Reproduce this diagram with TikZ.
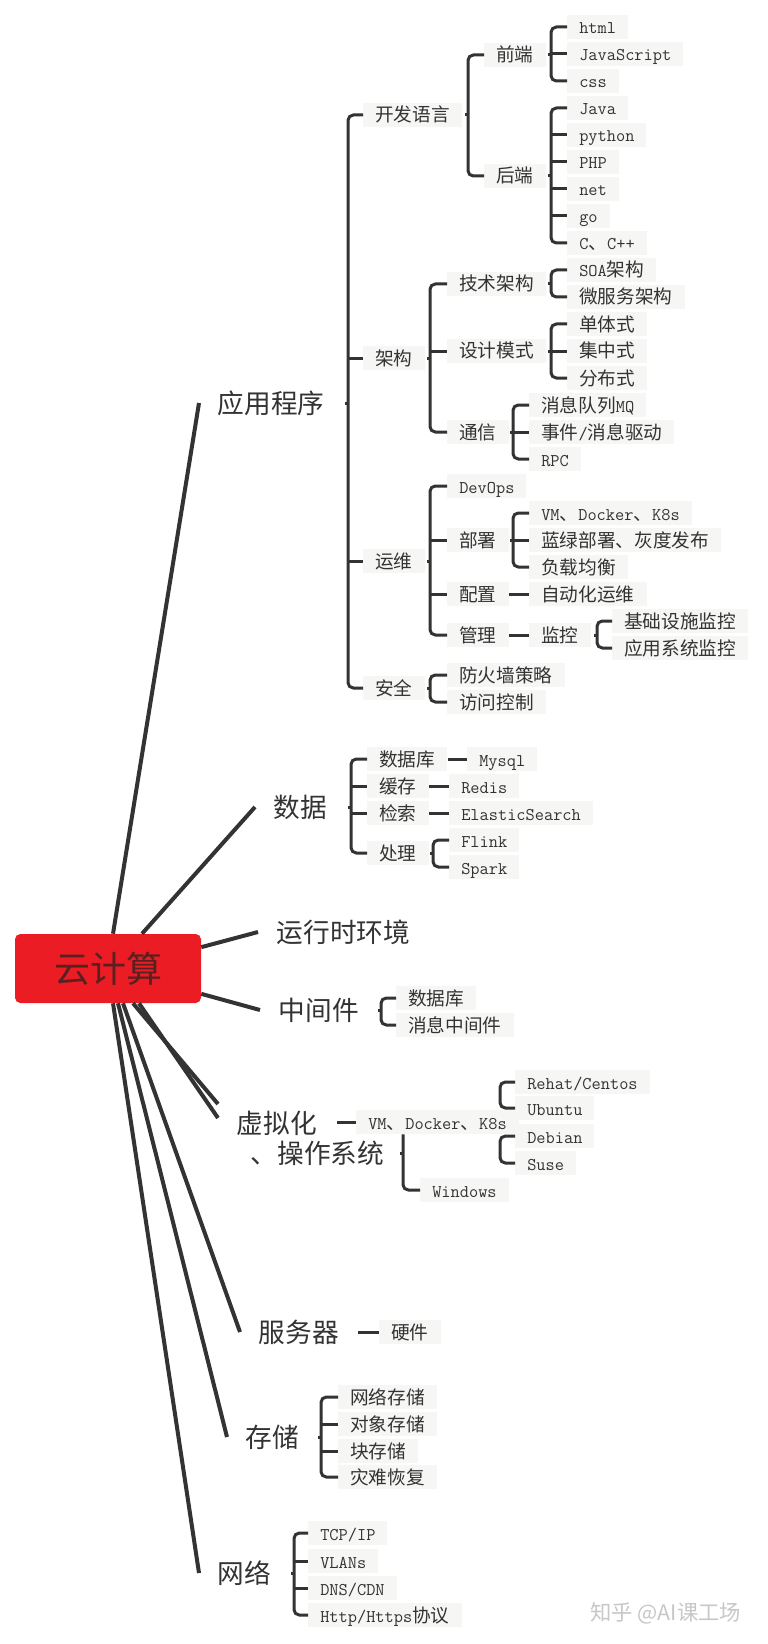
\documentclass[tikz,border=0pt]{standalone}
\usepackage{fontspec}
\setmainfont{Noto Sans CJK SC}
\newcommand\en[1]{{\ttfamily\fontsize{13.4pt}{16pt}\selectfont #1}}
\definecolor{ink}{RGB}{51,51,51}
\definecolor{rootred}{RGB}{236,28,36}
\definecolor{roottxt}{RGB}{88,32,32}
\definecolor{boxbg}{RGB}{246,246,244}

\begin{document}
\begin{tikzpicture}[x=0.75pt,y=-0.75pt,
    every node/.style={text=ink},
    leaf/.style={anchor=west,font=\fontsize{14pt}{16pt}\selectfont,inner xsep=9pt,inner ysep=0pt,
                 minimum height=18pt,text height=12pt,text depth=1.5pt,fill=boxbg},
    topic/.style={anchor=west,font=\fontsize{20pt}{22.5pt}\selectfont,inner xsep=14pt,inner ysep=2pt},
    br/.style={draw=ink,line width=2.25pt,rounded corners=4pt},
    trunk/.style={draw=ink,line width=3pt}]
                \path[fill=white] (0,0) rectangle (767,1644);
                % centre
                \node[fill=rootred,rounded corners=4pt,minimum width=139.5pt,minimum height=51.75pt,
                      text=roottxt,font=\fontsize{27pt}{30pt}\selectfont] (root) at (108,968.5) {云计算};
                % main topics
                \node[topic] (app) at (199,403) {应用程序};
                \node[topic] (data) at (255,807) {数据};
                \node[topic] (runtime) at (258,932) {运行时环境};
                \node[topic] (mid) at (260,1010) {中间件};
                \node[topic,align=left] (virt) at (218,1138) {虚拟化\\\hspace*{10.5pt}、操作系统};
                \node[topic] (server) at (240,1332) {服务器};
                \node[topic] (storage) at (227,1437) {存储};
                \node[topic] (net) at (199,1573) {网络};
                \draw[trunk] ([xshift=3.75pt]root.north) -- (app.west);
                \draw[trunk] ([xshift=25.5pt]root.north) -- (data.west);
                \draw[trunk] ([yshift=16pt]root.east) -- (runtime.west);
                \draw[trunk] ([yshift=-19pt]root.east) -- (mid.west);
                \draw[trunk] ([xshift=18.75pt]root.south) -- ([yshift=25.5pt]virt.west);
                \draw[trunk] ([xshift=23.25pt]root.south) -- ([yshift=15pt]virt.west);
                \draw[trunk] ([xshift=11.25pt]root.south) -- (server.west);
                \draw[trunk] ([xshift=7.5pt]root.south) -- (storage.west);
                \draw[trunk] ([xshift=3.75pt]root.south) -- (net.west);
                % 应用程序
                \node[leaf] (devlang) at (363,115) {开发语言};
                \node[leaf] (arch) at (363,358) {架构};
                \node[leaf] (ops) at (363,561) {运维};
                \node[leaf] (sec) at (363,688) {安全};
                \draw[br] (devlang.west) -| (348,0 |- sec.west) -- (sec.west);
                \foreach \ch in {arch,ops} \draw[br] (348,0 |- \ch.west) -- (\ch.west);
                \draw[br] (348,0 |- app.east) -- ++(-3,0);
                % 开发语言
                \node[leaf] (fe) at (484,55) {前端};
                \node[leaf] (be) at (484,176) {后端};
                \draw[br] (fe.west) -| (468,0 |- be.west) -- (be.west);
                \draw[br] (468,0 |- devlang.east) -- ++(-3,0);
                \node[leaf] (html) at (567,27) {\en{html}};
                \node[leaf] (js) at (567,54) {\en{JavaScript}};
                \node[leaf] (css) at (567,81) {\en{css}};
                \draw[br] (html.west) -| (551,0 |- css.west) -- (css.west);
                \draw[br] (551,0 |- js.west) -- (js.west);
                \draw[br] (551,0 |- fe.east) -- ++(-3,0);
                \node[leaf] (java) at (567,108) {\en{Java}};
                \node[leaf] (python) at (567,135) {\en{python}};
                \node[leaf] (php) at (567,162) {\en{PHP}};
                \node[leaf] (dotnet) at (567,189) {\en{net}};
                \node[leaf] (golang) at (567,216) {\en{go}};
                \node[leaf] (cpp) at (567,243) {\en{C}、\en{C++}};
                \draw[br] (java.west) -| (551,0 |- cpp.west) -- (cpp.west);
                \foreach \ch in {python,php,dotnet,golang} \draw[br] (551,0 |- \ch.west) -- (\ch.west);
                \draw[br] (551,0 |- be.east) -- ++(-3,0);
                % 架构
                \node[leaf] (tech) at (447,284) {技术架构};
                \node[leaf] (design) at (447,351) {设计模式};
                \node[leaf] (comm) at (447,432) {通信};
                \draw[br] (tech.west) -| (430,0 |- comm.west) -- (comm.west);
                \draw[br] (430,0 |- design.west) -- (design.west);
                \draw[br] (430,0 |- arch.east) -- ++(-3,0);
                \node[leaf] (soa) at (567,270) {\en{SOA}架构};
                \node[leaf] (micro) at (567,297) {微服务架构};
                \draw[br] (soa.west) -| (551,0 |- micro.west) -- (micro.west);
                \draw[br] (551,0 |- tech.east) -- ++(-3,0);
                \node[leaf] (mono) at (567,324) {单体式};
                \node[leaf] (central) at (567,351) {集中式};
                \node[leaf] (distrib) at (567,378) {分布式};
                \draw[br] (mono.west) -| (551,0 |- distrib.west) -- (distrib.west);
                \draw[br] (551,0 |- central.west) -- (central.west);
                \draw[br] (551,0 |- design.east) -- ++(-3,0);
                \node[leaf] (mq) at (529,405) {消息队列\en{MQ}};
                \node[leaf] (event) at (529,432) {事件\en{/}消息驱动};
                \node[leaf] (rpc) at (529,459) {\en{RPC}};
                \draw[br] (mq.west) -| (513,0 |- rpc.west) -- (rpc.west);
                \draw[br] (513,0 |- event.west) -- (event.west);
                \draw[br] (513,0 |- comm.east) -- ++(-3,0);
                % 运维
                \node[leaf] (devops) at (447,486) {\en{DevOps}};
                \node[leaf] (deploy) at (447,540) {部署};
                \node[leaf] (config) at (447,594) {配置};
                \node[leaf] (mgmt) at (447,635) {管理};
                \draw[br] (devops.west) -| (430,0 |- mgmt.west) -- (mgmt.west);
                \foreach \ch in {deploy,config} \draw[br] (430,0 |- \ch.west) -- (\ch.west);
                \draw[br] (430,0 |- ops.east) -- ++(-3,0);
                \node[leaf] (vm) at (529,513) {\en{VM}、\en{Docker}、\en{K8s}};
                \node[leaf] (bluegreen) at (529,540) {蓝绿部署、灰度发布};
                \node[leaf] (lb) at (529,567) {负载均衡};
                \draw[br] (vm.west) -| (513,0 |- lb.west) -- (lb.west);
                \draw[br] (513,0 |- bluegreen.west) -- (bluegreen.west);
                \draw[br] (513,0 |- deploy.east) -- ++(-3,0);
                \node[leaf] (autoops) at (529,594) {自动化运维};
                \draw[br] (config.east) -- (autoops.west);
                \node[leaf] (monitor) at (529,635) {监控};
                \draw[br] (mgmt.east) -- (monitor.west);
                \node[leaf] (infra) at (612,621) {基础设施监控};
                \node[leaf] (appmon) at (612,648) {应用系统监控};
                \draw[br] (infra.west) -| (597,0 |- appmon.west) -- (appmon.west);
                \draw[br] (597,0 |- monitor.east) -- ++(-3,0);
                % 安全
                \node[leaf] (firewall) at (447,675) {防火墙策略};
                \node[leaf] (access) at (447,702) {访问控制};
                \draw[br] (firewall.west) -| (430,0 |- access.west) -- (access.west);
                \draw[br] (430,0 |- sec.east) -- ++(-3,0);
                % 数据
                \node[leaf] (db) at (367,759) {数据库};
                \node[leaf] (cache) at (367,786) {缓存};
                \node[leaf] (search) at (367,813) {检索};
                \node[leaf] (proc) at (367,853) {处理};
                \draw[br] (db.west) -| (351,0 |- proc.west) -- (proc.west);
                \foreach \ch in {cache,search} \draw[br] (351,0 |- \ch.west) -- (\ch.west);
                \draw[br] (351,0 |- data.east) -- ++(-3,0);
                \node[leaf] (mysql) at (467,759) {\en{Mysql}};
                \node[leaf] (redis) at (449,786) {\en{Redis}};
                \node[leaf] (es) at (449,813) {\en{ElasticSearch}};
                \draw[br] (db.east) -- (mysql.west);
                \draw[br] (cache.east) -- (redis.west);
                \draw[br] (search.east) -- (es.west);
                \node[leaf] (flink) at (449,840) {\en{Flink}};
                \node[leaf] (spark) at (449,867) {\en{Spark}};
                \draw[br] (flink.west) -| (433,0 |- spark.west) -- (spark.west);
                \draw[br] (433,0 |- proc.east) -- ++(-3,0);
                % 中间件
                \node[leaf] (mdb) at (396,998) {数据库};
                \node[leaf] (mq2) at (396,1025) {消息中间件};
                \draw[br] (mdb.west) -| (381,0 |- mq2.west) -- (mq2.west);
                \draw[br] (381,0 |- mid.east) -- ++(-3,0);
                % 虚拟化、操作系统
                \node[leaf] (vm2) at (356,1122) {\en{VM}、\en{Docker}、\en{K8s}};
                \draw[br] (vm2.west) -- ++(-19,0);
                \node[leaf] (windows) at (420,1190) {\en{Windows}};
                \draw[br] (403,0 |- vm2.south) |- (windows.west);
                \draw[br] (403,0 |- virt.west) ++(0,15) -- ++(-3,0);
                \node[leaf] (rehat) at (515,1082) {\en{Rehat/Centos}};
                \node[leaf] (ubuntu) at (515,1108) {\en{Ubuntu}};
                \node[leaf] (debian) at (515,1136) {\en{Debian}};
                \node[leaf] (suse) at (515,1163) {\en{Suse}};
                \draw[br] (rehat.west) -| (500,0 |- ubuntu.west) -- (ubuntu.west);
                \draw[br] (debian.west) -| (500,0 |- suse.west) -- (suse.west);
                % 服务器
                \node[leaf] (hw) at (379,1332) {硬件};
                \draw[br] (server.east) -- (hw.west);
                % 存储
                \node[leaf] (nas) at (338,1397) {网络存储};
                \node[leaf] (obj) at (338,1424) {对象存储};
                \node[leaf] (block) at (338,1451) {块存储};
                \node[leaf] (dr) at (338,1477) {灾难恢复};
                \draw[br] (nas.west) -| (321,0 |- dr.west) -- (dr.west);
                \foreach \ch in {obj,block} \draw[br] (321,0 |- \ch.west) -- (\ch.west);
                \draw[br] (321,0 |- storage.east) -- ++(-3,0);
                % 网络
                \node[leaf] (tcp) at (308,1533) {\en{TCP/IP}};
                \node[leaf] (vlan) at (308,1561) {\en{VLANs}};
                \node[leaf] (dns) at (308,1588) {\en{DNS/CDN}};
                \node[leaf] (http) at (308,1615) {\en{Http/Https}协议};
                \draw[br] (tcp.west) -| (294,0 |- http.west) -- (http.west);
                \foreach \ch in {vlan,dns} \draw[br] (294,0 |- \ch.west) -- (\ch.west);
                \draw[br] (294,0 |- net.east) -- ++(-3,0);
                \node[anchor=west,inner sep=0pt,text=black!22,font=\fontsize{16pt}{18pt}\selectfont] (wm) at (590,1613) {知乎 @AI课工场};
            \end{tikzpicture}
\end{document}
